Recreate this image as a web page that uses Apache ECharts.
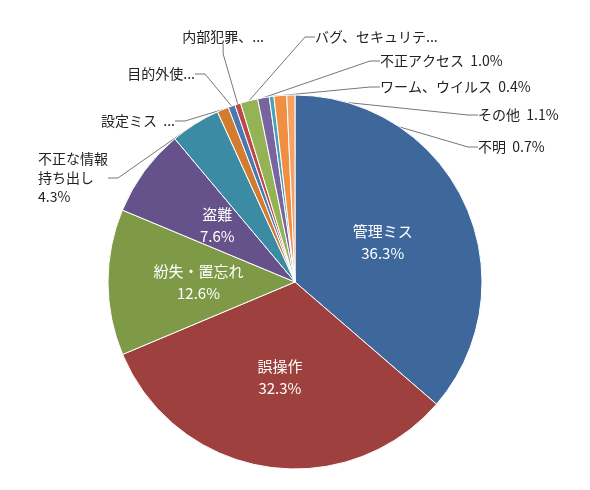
<!DOCTYPE html>
<html><head><meta charset="utf-8">
<script src="https://cdn.jsdelivr.net/npm/echarts@6/dist/echarts.min.js"></script>
<style>html,body{margin:0;padding:0;background:#fff}#c{width:590px;height:490px}</style>
</head><body><div id="c"></div>
<script>
const categories = ['管理ミス','誤操作','紛失・置忘れ','盗難','不正な情報\n持ち出し','設定ミス','目的外使用','内部犯罪、内部不正行為','バグ、セキュリティホール','不正アクセス','ワーム、ウイルス','その他','不明'];
const values = [36.3,32.3,12.6,7.6,4.3,1.0,0.6,0.5,1.5,1.0,0.4,1.1,0.7];
const colors = ['#3E689B','#9E403D','#7E9A47','#66528A','#3A8BA3','#D27C32','#4A78B0','#B84A47','#93B355','#7A64A0','#48A0BA','#F08F42','#F5A267'];
// label anchor: [x, y, align] for outside labels
const labelPos = {4:[38,178,'left'],5:[175,121,'right'],6:[195,74,'right'],7:[264,37,'right'],8:[315,37,'left'],9:[380,61,'left'],10:[380,87,'left'],11:[478,115,'left'],12:[478,147,'left']};
const chart = echarts.init(document.getElementById('c'));
const data = categories.map((n,i)=>{
  const d = {name:n, value:values[i], itemStyle:{color:colors[i]}};
  if (i<4) {
    d.label = {position:'inside', color:'#fff', fontSize:15, lineHeight:22, formatter: p=>p.name+'\n'+p.value.toFixed(1)+'%'};
    d.labelLine = {show:false};
  } else if (i===4) {
    d.label = {position:'outside', color:'#222', fontSize:14, lineHeight:19, formatter: p=>p.name+'\n'+p.value.toFixed(1)+'%'};
  } else {
    d.label = {position:'outside', color:'#222', fontSize:14, formatter: p=>p.name+'  '+p.value.toFixed(1)+'%'};
  }
  return d;
});
chart.setOption({
  animation:false,
  textStyle:{fontFamily:'"Noto Sans CJK JP","Noto Sans",sans-serif'},
  series:[{
    type:'pie', center:[295,282], radius:187, startAngle:90, clockwise:true,
    itemStyle:{borderColor:'#fff',borderWidth:1},
    labelLine:{show:true, length:10, length2:10, lineStyle:{color:'#777',width:1}},
    label:{fontFamily:'"Noto Sans CJK JP",sans-serif'},
    labelLayout: function(p){
      const lp = labelPos[p.dataIndex];
      if (!lp) return {};
      return {x:lp[0], y:lp[1], align:lp[2], verticalAlign:'middle'};
    },
    data: data
  }]
});
</script></body></html>
